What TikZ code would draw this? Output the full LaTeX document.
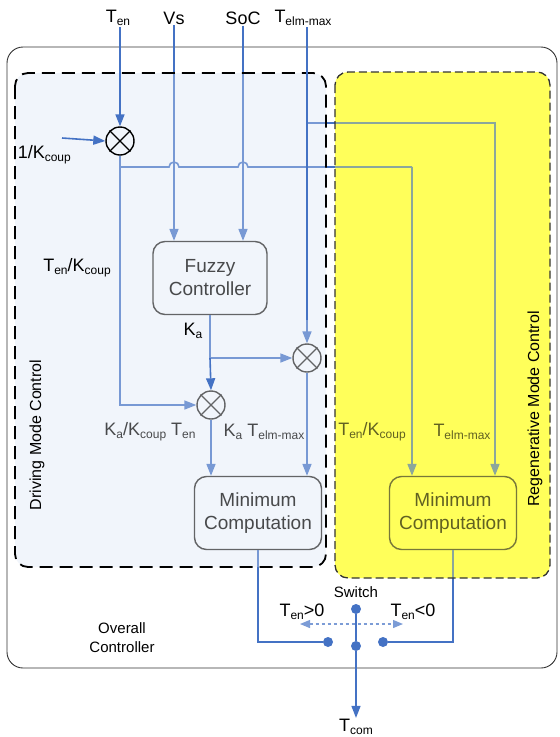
\documentclass[tikz,border=0pt]{standalone}
\usepackage{fontspec}
\setmainfont{Liberation Sans}
\usepackage{tikz}
\usetikzlibrary{arrows.meta,positioning,shapes}
\definecolor{sigblue}{RGB}{68,114,196}
\definecolor{drvfill}{RGB}{241,245,251}
\definecolor{regfill}{RGB}{255,255,90}
\newcommand{\subtx}[1]{\raisebox{-0.35ex}{\fontsize{12}{12}\selectfont #1}}
\newcommand{\lblfont}{\fontsize{18}{20}\selectfont}
\newcommand{\boxfont}{\fontsize{19}{23}\selectfont}
\newcommand{\smfont}{\fontsize{15}{19}\selectfont}
\newcommand{\rotfont}{\fontsize{16}{18}\selectfont}
\pgfdeclarelayer{under}
\pgfdeclarelayer{fade}
\pgfdeclarelayer{front}
\pgfsetlayers{under,main,fade,front}
\tikzstyle{sig} = [draw=sigblue, line width=1.6pt]
\tikzstyle{arr} = [-{Triangle[length=12pt,width=9pt]}]
\tikzstyle{blk} = [draw=black!85, rounded corners=12pt, line width=1.4pt, minimum width=127pt, minimum height=73pt, align=center, font=\boxfont]
\tikzstyle{mul} = [circle, draw=black, minimum size=28pt, inner sep=0pt, line width=1.4pt]
\tikzstyle{lbl} = [font=\lblfont, inner sep=1pt]
\tikzstyle{dot} = [circle, fill=sigblue, minimum size=10pt, inner sep=0pt]
\tikzstyle{modearea} = [rounded corners=13pt]
\tikzstyle{drvframe} = [modearea, draw=black, line width=1.8pt, dash pattern=on 13pt off 7pt]
\tikzstyle{regframe} = [modearea, draw=black!80, line width=1.3pt, dash pattern=on 8pt off 4pt]

\begin{document}
\begin{tikzpicture}[x=1pt,y=-1pt]
	\useasboundingbox (0,0) rectangle (560,737);
	\begin{pgfonlayer}{under}
		\draw[black!80, line width=0.9pt, rounded corners=16pt] (7,47) rectangle (557,668);
		\fill[drvfill, modearea] (15,73) rectangle (326,567);
		\fill[regfill, modearea] (335,72) rectangle (550,578);
	\end{pgfonlayer}
	\begin{pgfonlayer}{fade}
		\fill[drvfill, modearea, fill opacity=0.3] (15,73) rectangle (326,567);
		\fill[regfill, modearea, fill opacity=0.38] (335,72) rectangle (550,578);
	\end{pgfonlayer}
	
	\node[lbl] (ten) at (118,18) {T\subtx{en}};
	\node[lbl] (vs) at (174,18) {Vs};
	\node[lbl] (soc) at (243,18) {SoC};
	\node[lbl] (telm) at (303,18) {T\subtx{elm-max}};
	\begin{pgfonlayer}{front}
		\node[mul] (mul1) at (120,141) {};
		\draw[line width=1.4pt] (mul1.north west) -- (mul1.south east) (mul1.north east) -- (mul1.south west);
	\end{pgfonlayer}
	\node[blk, minimum width=114pt] (fuzzy) at (210,278) {Fuzzy\\Controller};
	\node[mul, draw=black!85] (mul2) at (211,405) {};
	\node[mul, draw=black!85] (mul3) at (307,358) {};
	\foreach \m in {mul2,mul3}
		\draw[black!85, line width=1.2pt] (\m.north west) -- (\m.south east) (\m.north east) -- (\m.south west);
	\node[blk] (min1) at (258,513) {Minimum\\Computation};
	\node[blk] (min2) at (453,513) {Minimum\\Computation};
	
	\coordinate (kin) at (62,138);
	\coordinate (j1) at (120,167);
	\coordinate (j2) at (307,123);
	\coordinate (j3) at (210,358);
	\coordinate (c1) at (412,167);
	\coordinate (c2) at (495,123);
	\coordinate (c3) at (307,320);
	
	\draw[sig] (mul1.south) -- (j1) -- (169,167) arc(180:360:5) -- (238,167) arc(180:360:5) -- (c1);
	\draw[sig,arr] (c1) -- (c1 |- min2.north);
	\draw[sig,arr] (j1) |- (mul2.west);
	\draw[sig,arr] (vs.south) -- (vs.south |- fuzzy.north);
	\draw[sig,arr] (soc.south) -- (soc.south |- fuzzy.north);
	\draw[sig,arr] (telm.south -| mul3.north) -- (mul3.north);
	\draw[sig,arr] (j2) -- (c2) -- (c2 |- min2.north);
	\draw[sig] (fuzzy.south) -- (j3);
	\draw[sig,arr] (j3) -- (mul3.west);
	\draw[sig,arr] (mul2.south) -- (mul2.south |- min1.north);
	\draw[sig,arr] (mul3.south) -- (mul3.south |- min1.north);
	
	\node[lbl] (kakc) at (150,432) {K\subtx{a}/K\subtx{coup} T\subtx{en}};
	\node[lbl] (katm) at (264,432) {K\subtx{a} T\subtx{elm-max}};
	\node[lbl] (tenkc) at (372,432) {T\subtx{en}/K\subtx{coup}};
	\node[lbl] (tmax) at (462,432) {T\subtx{elm-max}};
	
	\begin{pgfonlayer}{front}
		\draw[drvframe] (15,73) rectangle (326,567);
		\draw[regframe] (335,72) rectangle (550,578);
		\draw[sig,arr] (ten.south -| mul1.north) -- (mul1.north);
		\draw[sig,arr] (kin) -- (mul1.west);
		\draw[sig,arr] (j3) -- (mul2.north);
		\draw[sig] (telm.south -| c3) -- (c3);
		\node[lbl, anchor=east] (kinlbl) at (72,155) {1/K\subtx{coup}};
		\node[lbl] (tkc) at (77,268) {T\subtx{en}/K\subtx{coup}};
		\node[lbl] (kalbl) at (193,331) {K\subtx{a}};
		\node[font=\rotfont, rotate=90] (drvlbl) at (37,435) {Driving Mode Control};
		\node[font=\rotfont, rotate=90] (reglbl) at (535,409) {Regenerative Mode Control};
	\end{pgfonlayer}
	
	\node[dot] (swt) at (356,609) {};
	\node[dot] (swb) at (356,646) {};
	\node[dot] (swl) at (328,642) {};
	\node[dot] (swr) at (383,642) {};
	\node[font=\smfont, above=3pt of swt] (swlbl) {Switch};
	\node[lbl] (tpos) at (302,612) {T\subtx{en}>0};
	\node[lbl] (tneg) at (413,612) {T\subtx{en}<0};
	\node[lbl] (tcom) at (356,727) {T\subtx{com}};
	\node[font=\smfont, align=center] (ovr) at (122,638) {Overall\\Controller};
	\coordinate (da) at (300,624);
	\coordinate (db) at (403,624);
	
	\draw[sig] (min1.south) |- (swl);
	\draw[sig] (min2.south) |- (swr);
	\draw[sig] (swt) -- (swb);
	\draw[sig,arr] (swb) -- (tcom.north);
	\draw[draw=sigblue!70, line width=1.2pt, dashed, {Triangle[length=10pt,width=8pt]}-{Triangle[length=10pt,width=8pt]}] (da) -- (db);
\end{tikzpicture}
\end{document}
